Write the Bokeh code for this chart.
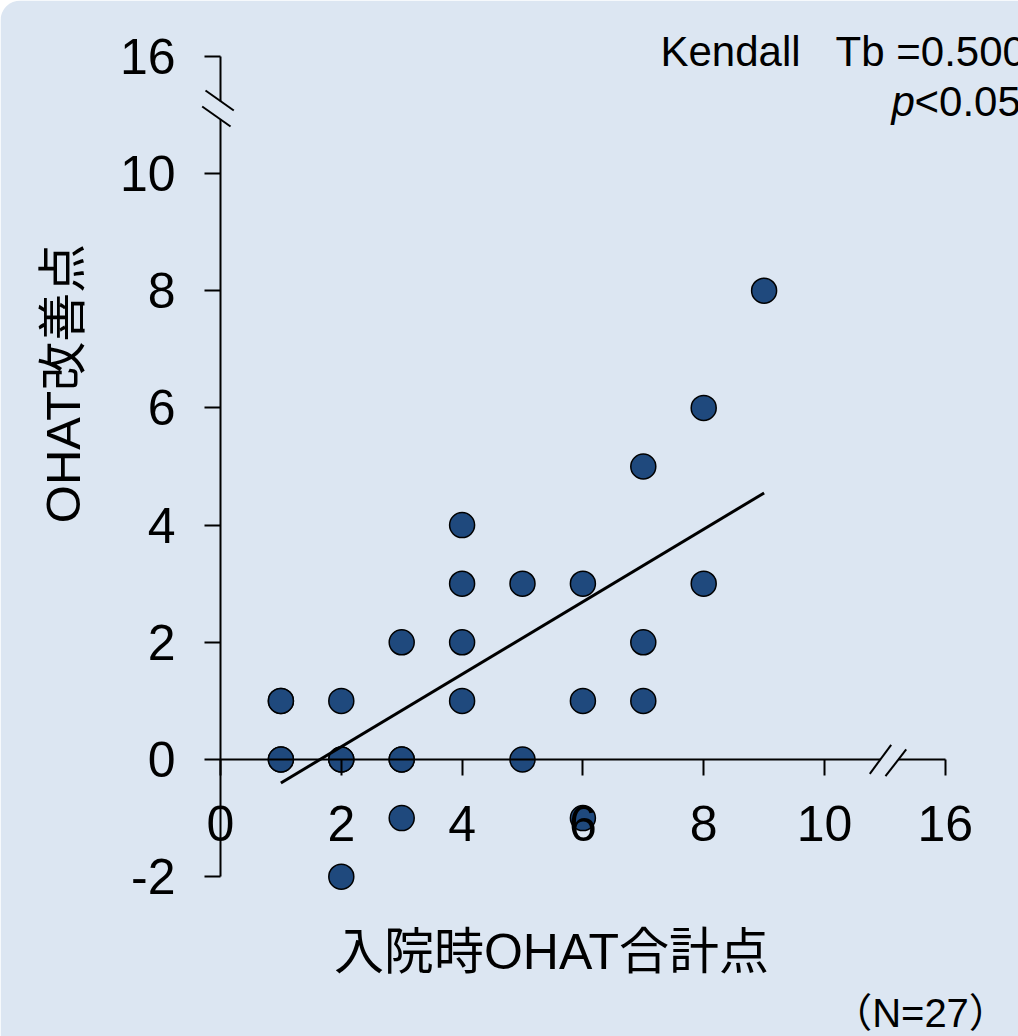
import numpy as np
from bokeh.plotting import figure
from bokeh.models import (Range1d, LinearAxis, FixedTicker, Label, BoxAnnotation,
                          ColumnDataSource)
from bokeh.embed import file_html
from bokeh.resources import INLINE

# OHAT score at admission vs. OHAT improvement (N=27)
ohat_admission = [1, 1, 1, 1, 2, 2, 2, 2, 3, 3, 3, 3, 4, 4, 4, 4, 5, 5,
                  6, 6, 6, 7, 7, 7, 8, 8, 9]
ohat_improvement = [1, 0, 0, 1, 1, 0, 0, -2, 2, 0, 0, -1, 4, 3, 2, 1, 3, 0,
                    3, 1, -1, 5, 2, 1, 6, 3, 8]

x_ticks = [0, 2, 4, 6, 8, 10, 12]
y_ticks = [-2, 0, 2, 4, 6, 8, 10, 12]
tick_overrides = {12: "16", -2: "-2"}   # 12 on the scale is drawn as 16 (axis break)

stat_line = "Kendall\u00a0\u00a0\u00a0Tb =0.500"
p_label = "p"
p_value = "<0.05"
x_title = "入院時OHAT合計点"
y_title = "OHAT改善点"
n_label = "（N=27）"

BG = "#dce6f2"
PT = "#1f497d"
FONT = "Liberation Sans, Noto Sans CJK JP"

W, H = 1018, 1036
X0, XS = 220.0, 60.4      # pixel of x=0, pixels per unit
Y0, YS = 759.0, 58.6      # pixel of y=0, pixels per unit


def dx(px):
    return (px - X0) / XS


def dy(py):
    return (Y0 - py) / YS


p = figure(width=W, height=H, output_backend="svg", toolbar_location=None,
           x_range=Range1d(dx(0), dx(W)), y_range=Range1d(dy(H), dy(0)),
           x_axis_location=None, y_axis_location=None, min_border=0)
p.grid.visible = False
p.outline_line_color = None
p.background_fill_color = "white"
p.border_fill_color = "white"

# rounded panel behind everything
p.add_layout(BoxAnnotation(left=dx(0), right=dx(W + 60), top=dy(0), bottom=dy(H + 60),
                           fill_color=BG, fill_alpha=1, line_color=None,
                           border_radius=(20, 0, 0, 0), level="underlay",
                           editable=False))

# axes crossing at the origin
xaxis = LinearAxis(fixed_location=0, ticker=FixedTicker(ticks=x_ticks),
                   major_label_overrides=tick_overrides, bounds=(0, 12))
yaxis = LinearAxis(fixed_location=0, ticker=FixedTicker(ticks=y_ticks),
                   major_label_overrides=tick_overrides, bounds=(-2, 12))
for ax in (xaxis, yaxis):
    ax.axis_line_color = "black"
    ax.axis_line_width = 2
    ax.major_tick_line_color = "black"
    ax.major_tick_line_width = 2
    ax.major_tick_in = 0
    ax.major_tick_out = 16
    ax.minor_tick_line_color = None
    ax.major_label_text_font = FONT
    ax.major_label_text_font_size = "50px"
    ax.major_label_text_color = "black"
xaxis.major_label_standoff = 30
yaxis.major_label_standoff = 29
p.add_layout(xaxis, "below")
p.add_layout(yaxis, "left")

# axis breaks: hide a short piece of each axis line, then draw the double slash
p.add_layout(BoxAnnotation(left=dx(218), right=dx(223), top=11.235, bottom=10.923,
                           fill_color=BG, fill_alpha=1, line_color=None, editable=False))
p.add_layout(BoxAnnotation(left=10.925, right=11.224, top=dy(756), bottom=dy(762),
                           fill_color=BG, fill_alpha=1, line_color=None, editable=False))
breaks = ColumnDataSource(dict(
    x0=[-0.248, -0.303, 10.750, 11.010],
    y0=[11.416, 11.143, -0.244, -0.285],
    x1=[0.220, 0.166, 11.104, 11.353],
    y1=[11.075, 10.802, 0.251, 0.171],
))
p.segment("x0", "y0", "x1", "y1", source=breaks, line_color="black",
          line_width=2, level="overlay")

# data points
src = ColumnDataSource(dict(x=ohat_admission, y=ohat_improvement))
p.scatter("x", "y", source=src, size=25, fill_color=PT, line_color="black",
          line_width=1.5)

# least-squares trend line over the observed range
slope, intercept = np.polyfit(ohat_admission, ohat_improvement, 1)
fx = [min(ohat_admission), max(ohat_admission)]
p.line(fx, [slope * v + intercept for v in fx], line_color="black", line_width=3)

# texts
p.add_layout(Label(x=dx(660), y=dy(51), text=stat_line, text_font=FONT,
                   text_font_size="42px", text_color="black",
                   text_align="left", text_baseline="alphabetic"))
p.add_layout(Label(x=dx(891), y=dy(101), text=p_label, text_font=FONT,
                   text_font_size="42px", text_font_style="italic",
                   text_color="black", text_align="left",
                   text_baseline="alphabetic"))
p.add_layout(Label(x=dx(914), y=dy(101), text=p_value, text_font=FONT,
                   text_font_size="42px", text_color="black",
                   text_align="left", text_baseline="alphabetic"))
p.add_layout(Label(x=dx(551), y=dy(951), text=x_title, text_font=FONT,
                   text_font_size="50px", text_color="black",
                   text_align="center", text_baseline="middle"))
p.add_layout(Label(x=dx(62), y=dy(383), text=y_title, text_font=FONT,
                   text_font_size="49px", text_color="black", angle=np.pi / 2,
                   text_align="center", text_baseline="middle"))
p.add_layout(Label(x=dx(920), y=dy(1012), text=n_label, text_font=FONT,
                   text_font_size="40px", text_color="black",
                   text_align="center", text_baseline="middle"))

open("out.html", "w").write(file_html(p, INLINE))
